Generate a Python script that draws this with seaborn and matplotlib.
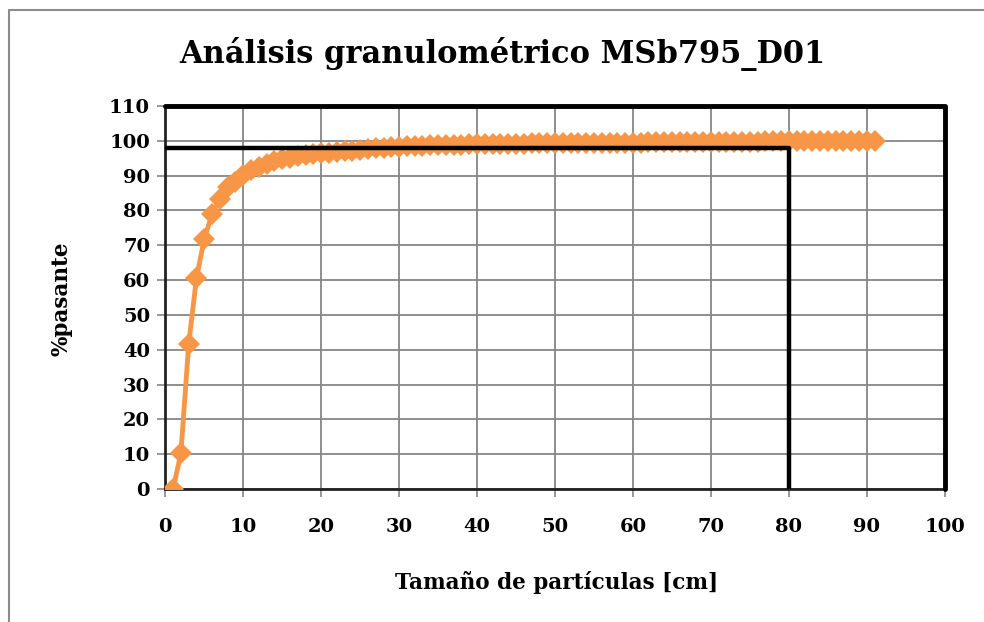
import matplotlib
matplotlib.use("Agg")
import matplotlib.pyplot as plt
import seaborn as sns
import pandas as pd

# ---- data ----
size_cm = list(range(1, 92))
pct_passing = [
    0.0, 10.3, 41.6, 60.6, 71.8, 79.0, 83.4, 86.6, 88.3, 90.1,
    91.5, 92.5, 93.4, 94.1, 94.7, 95.2, 95.6, 95.9, 96.2, 96.4,
    96.6, 96.8, 97.0, 97.2, 97.4, 97.6, 97.8, 98.0, 98.2, 98.3,
    98.4, 98.5, 98.6, 98.7, 98.75, 98.8, 98.85, 98.9, 98.95, 99.0,
    99.05, 99.1, 99.1, 99.15, 99.2, 99.2, 99.25, 99.25, 99.3, 99.3,
    99.3, 99.35, 99.35, 99.4, 99.4, 99.4, 99.45, 99.45, 99.5, 99.5,
    99.5, 99.55, 99.55, 99.6, 99.6, 99.6, 99.65, 99.65, 99.7, 99.7,
    99.7, 99.72, 99.74, 99.76, 99.78, 99.8, 99.82, 99.84, 99.85, 99.86,
    99.87, 99.88, 99.89, 99.9, 99.91, 99.92, 99.94, 99.95, 99.97, 99.98,
    100.0,
]
ref_x = [0, 80, 80]
ref_y = [98, 98, 0]
box_x = [0, 100, 100]
box_y = [110, 110, 0]
x_ticks = list(range(0, 101, 10))
y_ticks = list(range(0, 111, 10))

title = "Análisis granulométrico MSb795_D01"
xlabel = "Tamaño de partículas [cm]"
ylabel = "%pasante"

# ---- style ----
sns.set_theme(style="white")
plt.rcParams["font.family"] = ["DejaVu Serif"]
plt.rcParams["font.weight"] = "bold"
plt.rcParams["text.color"] = "black"
plt.rcParams["xtick.color"] = "black"
plt.rcParams["ytick.color"] = "black"

fig = plt.figure(figsize=(9.84, 6.22), dpi=100)
ax = fig.add_axes([0.168, 0.2138, 0.792, 0.6158])

df = pd.DataFrame({"x": size_cm, "y": pct_passing})
orange = "#F79646"
sns.lineplot(data=df, x="x", y="y", ax=ax, color=orange, linewidth=3.5,
             marker="D", markersize=11.5, markeredgewidth=0, zorder=3)

# reference lines
sns.lineplot(x=ref_x, y=ref_y, ax=ax, color="black", linewidth=3.2,
             sort=False, zorder=4, estimator=None)
sns.lineplot(x=box_x, y=box_y, ax=ax, color="black", linewidth=3.5,
             sort=False, zorder=4, estimator=None, clip_on=False)

ax.set_xlim(0, 100)
ax.set_ylim(0, 110)
ax.set_xticks(x_ticks)
ax.set_yticks(y_ticks)
ax.grid(True, color="#868686", linewidth=1.3)
ax.set_axisbelow(True)

for side in ["top", "right"]:
    ax.spines[side].set_visible(False)
for side in ["left", "bottom"]:
    ax.spines[side].set_color("#222222")
    ax.spines[side].set_linewidth(2.0)

ax.tick_params(axis="both", direction="out", length=6, width=1.2,
               color="#868686", labelcolor="black", labelsize=14,
               bottom=True, left=True)
ax.tick_params(axis="x", pad=15)
ax.tick_params(axis="y", pad=5)
for lab in ax.get_xticklabels() + ax.get_yticklabels():
    lab.set_fontweight("bold")

ax.set_xlabel("")
ax.set_ylabel("")
fig.text(557 / 984, 1 - 582 / 622, xlabel, ha="center", va="center",
         fontsize=15.5, fontweight="bold", color="black")
fig.text(62 / 984, 1 - 299 / 622, ylabel, ha="center", va="center",
         rotation=90, fontsize=15.5, fontweight="bold", color="black")
fig.text(502 / 984, 1 - 63 / 622, title, ha="center", va="baseline",
         fontsize=22, fontweight="bold", color="black")

# outer chart border (gray)
fig.add_artist(plt.Line2D([9 / 984, 9 / 984], [0, 1 - 10 / 622],
                          color="#8c8c8c", linewidth=1.5,
                          transform=fig.transFigure))
fig.add_artist(plt.Line2D([9 / 984, 1], [1 - 10 / 622, 1 - 10 / 622],
                          color="#8c8c8c", linewidth=1.5,
                          transform=fig.transFigure))

fig.savefig("out.png", dpi=100)
